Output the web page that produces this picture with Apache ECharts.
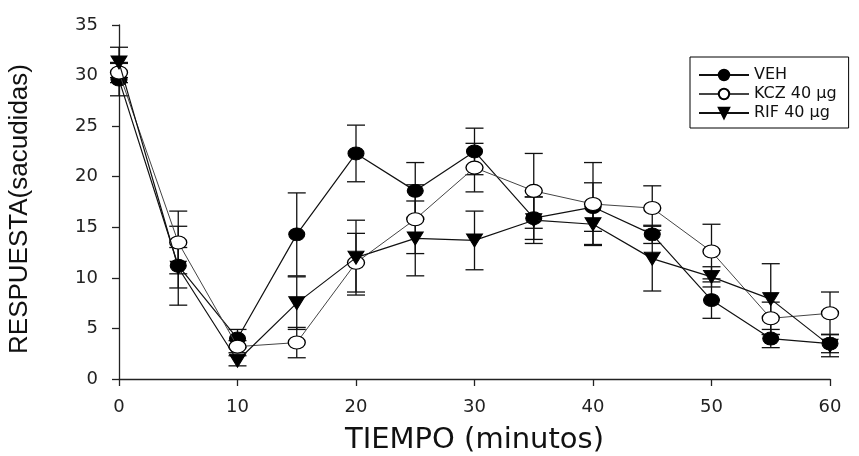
<!DOCTYPE html>
<html>
<head>
<meta charset="utf-8">
<script src="https://cdn.jsdelivr.net/npm/echarts@6/dist/echarts.min.js"></script>
<style>
  html, body { margin: 0; padding: 0; background: #fff; }
  #chart { width: 859px; height: 456px; }
</style>
</head>
<body>
<div id="chart"></div>
<script>
// tiempo (minutos)
var time = [0, 5, 10, 15, 20, 25, 30, 35, 40, 45, 50, 55, 60];
var xTicks = [0, 10, 20, 30, 40, 50, 60];
var yTicks = [0, 5, 10, 15, 20, 25, 30, 35];

var veh    = [29.6, 11.2, 4.0, 14.3, 22.3, 18.6, 22.5, 15.9, 17.0, 14.3, 7.8, 4.0, 3.5];
var vehErr = [1.6, 3.9, 0.9, 4.1, 2.8, 2.8, 2.3, 2.1, 2.4, 0.9, 1.8, 0.9, 0.9];
var kcz    = [30.3, 13.5, 3.2, 3.6, 11.5, 15.8, 20.9, 18.6, 17.3, 16.9, 12.6, 6.0, 6.5];
var kczErr = [1.0, 3.1, 0.6, 1.5, 2.9, 3.4, 2.4, 3.7, 4.1, 2.2, 2.7, 1.6, 2.1];
var rif    = [31.3, 11.0, 1.8, 7.5, 12.0, 13.9, 13.7, 15.7, 15.3, 11.9, 10.1, 7.9, 3.3];
var rifErr = [1.5, 2.0, 0.5, 2.6, 3.7, 3.7, 2.9, 2.3, 2.0, 3.2, 1.0, 3.5, 1.1];

var names = ['VEH', 'KCZ 40 µg', 'RIF 40 µg'];
var triDown = 'path://M0,0L12,0L6,10Z';

function pairs(ys) {
  return time.map(function (t, i) { return [t, ys[i]]; });
}
function errData(ys, es) {
  return time.map(function (t, i) { return [t, ys[i] - es[i], ys[i] + es[i]]; });
}
function errBars(name, ys, es) {
  return {
    name: name + ' err',
    type: 'custom',
    z: 1,
    silent: true,
    data: errData(ys, es),
    renderItem: function (params, api) {
      var lo = api.coord([api.value(0), api.value(1)]);
      var hi = api.coord([api.value(0), api.value(2)]);
      var w = 9;
      var st = { stroke: '#111', lineWidth: 1.3 };
      return {
        type: 'group',
        children: [
          { type: 'line', shape: { x1: lo[0], y1: lo[1], x2: hi[0], y2: hi[1] }, style: st },
          { type: 'line', shape: { x1: lo[0] - w, y1: lo[1], x2: lo[0] + w, y2: lo[1] }, style: st },
          { type: 'line', shape: { x1: hi[0] - w, y1: hi[1], x2: hi[0] + w, y2: hi[1] }, style: st }
        ]
      };
    }
  };
}

var chart = echarts.init(document.getElementById('chart'));
var option = {
  animation: false,
  grid: { left: 119, right: 29, top: 25, bottom: 77, outerBoundsMode: 'none' },
  legend: {
    data: names,
    orient: 'vertical',
    left: 690,
    top: 57,
    padding: [10, 12, 7, 8],
    itemGap: 3,
    itemWidth: 50,
    itemHeight: 13,
    borderColor: '#000',
    borderWidth: 1,
    textStyle: { fontFamily: 'DejaVu Sans', fontSize: 16, color: '#111' }
  },
  xAxis: {
    type: 'value',
    min: 0,
    max: 60,
    interval: 10,
    name: 'TIEMPO (minutos)',
    nameLocation: 'middle',
    nameGap: 47,
    nameTextStyle: { fontFamily: 'DejaVu Sans', fontSize: 29, color: '#111' },
    axisLine: { lineStyle: { color: '#222', width: 1.3 } },
    axisTick: { length: 7, lineStyle: { color: '#222', width: 1.3 } },
    axisLabel: {
      margin: 19,
      fontFamily: 'DejaVu Sans',
      fontSize: 18,
      color: '#222',
      formatter: function (v) { return xTicks.indexOf(v) >= 0 ? String(v) : ''; }
    },
    splitLine: { show: false }
  },
  yAxis: {
    type: 'value',
    min: 0,
    max: 35,
    interval: 5,
    name: 'RESPUESTA(sacudidas)',
    nameLocation: 'middle',
    nameRotate: 90,
    nameGap: 86,
    nameTextStyle: { fontFamily: 'Liberation Sans Narrow, Liberation Sans', fontSize: 26, color: '#111', padding: [0, 14, 0, 0] },
    axisLine: { show: true, lineStyle: { color: '#222', width: 1.3 } },
    axisTick: { show: true, length: 7, lineStyle: { color: '#222', width: 1.3 } },
    axisLabel: {
      margin: 21,
      fontFamily: 'DejaVu Sans',
      fontSize: 18,
      color: '#222',
      formatter: function (v) { return yTicks.indexOf(v) >= 0 ? String(v) : ''; }
    },
    splitLine: { show: false }
  },
  series: [
    errBars(names[0], veh, vehErr),
    errBars(names[1], kcz, kczErr),
    errBars(names[2], rif, rifErr),
    {
      name: names[0],
      type: 'line',
      z: 3,
      data: pairs(veh),
      symbol: 'circle',
      symbolSize: [16, 13],
      lineStyle: { color: '#111', width: 1.2 },
      itemStyle: { color: '#000', borderColor: '#000', borderWidth: 1 }
    },
    {
      name: names[1],
      type: 'line',
      z: 4,
      data: pairs(kcz),
      symbol: 'circle',
      symbolSize: [17, 13],
      lineStyle: { color: '#444', width: 1 },
      itemStyle: { color: '#fff', borderColor: '#000', borderWidth: 1.2 }
    },
    {
      name: names[2],
      type: 'line',
      z: 5,
      data: pairs(rif),
      symbol: triDown,
      symbolSize: [16, 13],
      lineStyle: { color: '#111', width: 1.2 },
      itemStyle: { color: '#000', borderColor: '#000', borderWidth: 1 }
    }
  ]
};
chart.setOption(option);
</script>
</body>
</html>
